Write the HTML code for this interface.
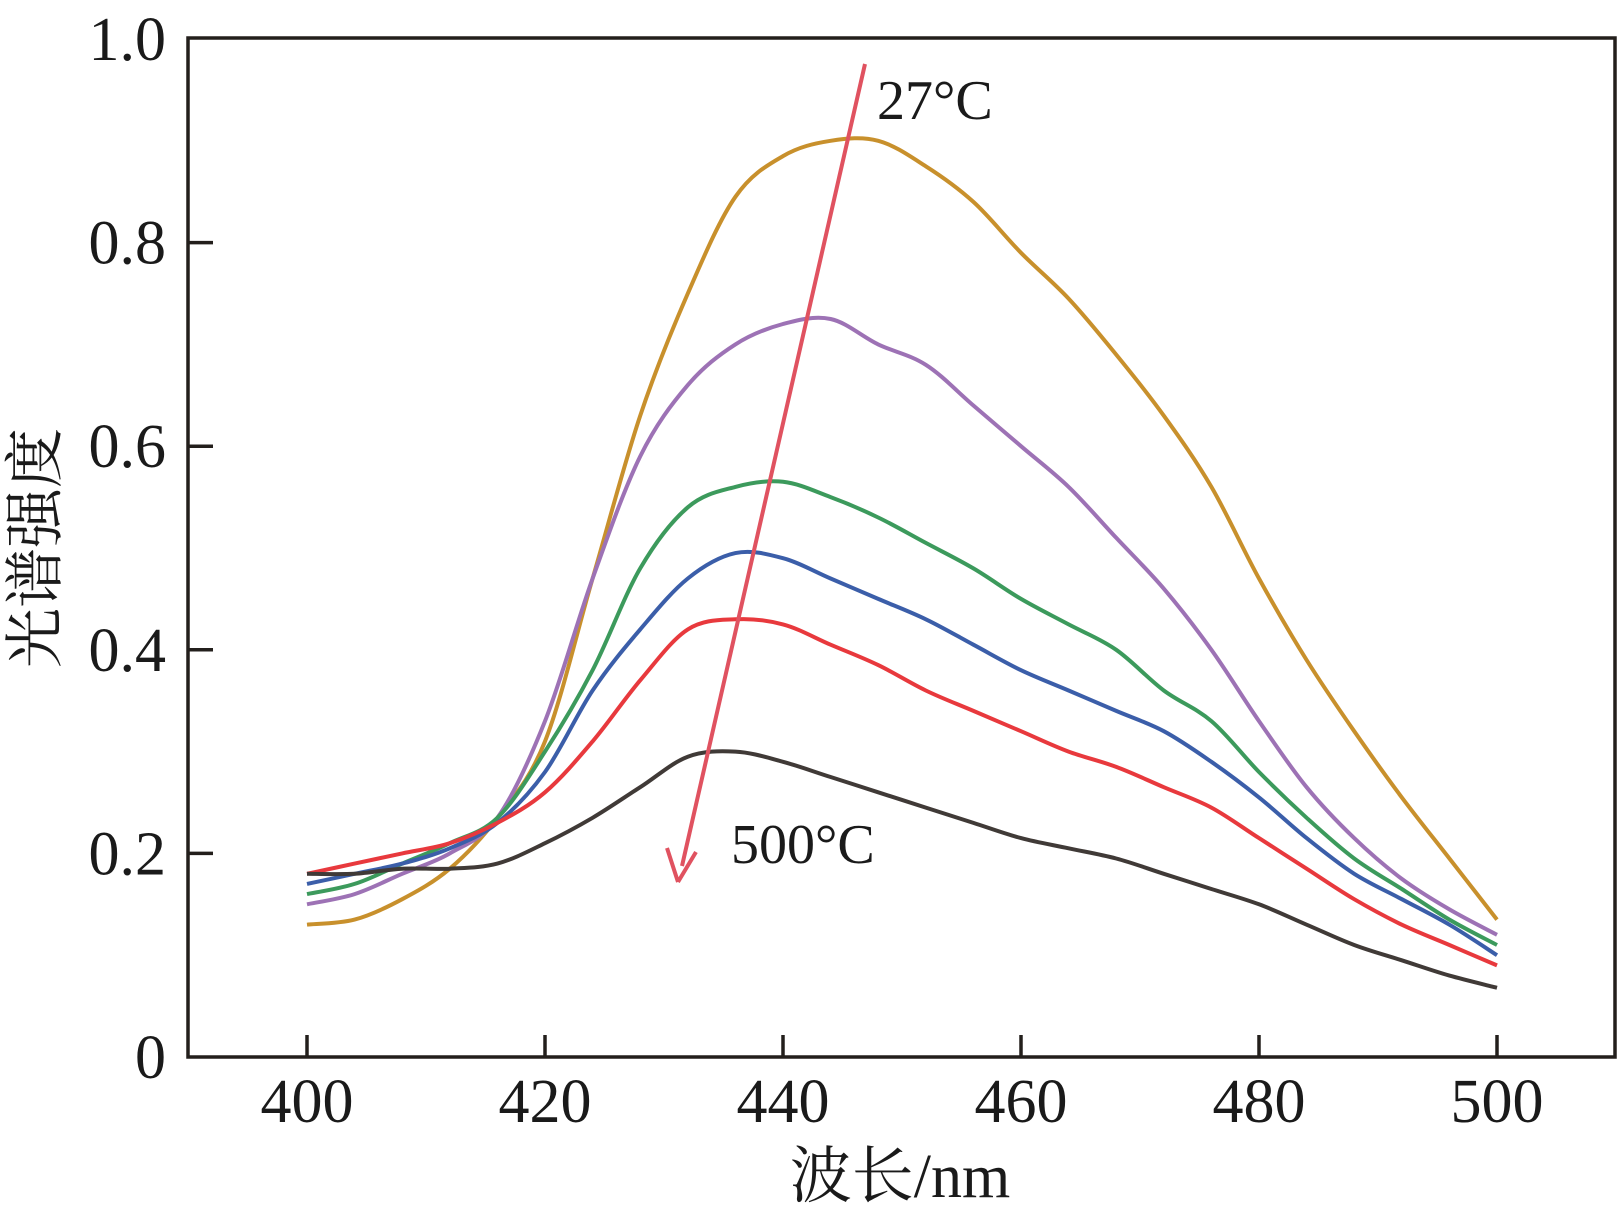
<!DOCTYPE html>
<html><head><meta charset="utf-8"><style>
html,body{margin:0;padding:0;background:#fff;}
svg{display:block;}
.t{font-family:"Liberation Serif","Noto Serif CJK SC",serif;fill:#1a1a1a;}
</style></head><body>
<svg id="chart" width="1622" height="1219" viewBox="0 0 1622 1219" xmlns="http://www.w3.org/2000/svg"></svg>
<script>
const wavelengths = [400,404,408,412,416,420,424,428,432,436,440,444,448,452,456,460,464,468,472,476,480,484,488,492,496,500];
const seriesGold   = [0.13,0.135,0.155,0.185,0.235,0.31,0.47,0.63,0.75,0.845,0.885,0.90,0.90,0.875,0.84,0.79,0.745,0.69,0.63,0.56,0.47,0.39,0.32,0.255,0.195,0.135];
const seriesPurple = [0.15,0.16,0.18,0.20,0.235,0.33,0.47,0.59,0.66,0.70,0.72,0.725,0.70,0.68,0.64,0.60,0.56,0.51,0.46,0.40,0.33,0.265,0.215,0.175,0.145,0.12];
const seriesGreen  = [0.16,0.17,0.19,0.21,0.235,0.30,0.38,0.48,0.54,0.56,0.565,0.55,0.53,0.505,0.48,0.45,0.425,0.40,0.36,0.33,0.28,0.235,0.195,0.165,0.135,0.11];
const seriesBlue   = [0.17,0.18,0.19,0.205,0.23,0.28,0.36,0.42,0.47,0.495,0.49,0.47,0.45,0.43,0.405,0.38,0.36,0.34,0.32,0.29,0.255,0.215,0.18,0.155,0.13,0.10];
const seriesRed    = [0.18,0.19,0.20,0.21,0.23,0.26,0.31,0.37,0.42,0.43,0.425,0.405,0.385,0.36,0.34,0.32,0.30,0.285,0.265,0.245,0.215,0.185,0.155,0.13,0.11,0.09];
const seriesDark   = [0.18,0.18,0.185,0.185,0.19,0.21,0.235,0.265,0.295,0.30,0.29,0.275,0.26,0.245,0.23,0.215,0.205,0.195,0.18,0.165,0.15,0.13,0.11,0.095,0.08,0.068];
const xTicks = [400,420,440,460,480,500];
const yTicks = [0,0.2,0.4,0.6,0.8,1.0];
const yTickLabels = ["0","0.2","0.4","0.6","0.8","1.0"];

const NS="http://www.w3.org/2000/svg";
const svg=document.getElementById('chart');
const X0=188,X1=1615,Y0=1057,Y1=38;
const xs=w=>307+(w-400)*(1190/100);
const ys=v=>1057-v*(1057-39);
function mk(tag,attrs){const e=document.createElementNS(NS,tag);for(const k in attrs)e.setAttribute(k,attrs[k]);svg.appendChild(e);return e;}

const frame=mk('rect',{x:X0,y:Y1,width:X1-X0,height:Y0-Y1,fill:'none',stroke:'#231f1c','stroke-width':3.5});



xTicks.forEach(t=>{
  const l=mk('line',{x1:xs(t),x2:xs(t),y1:Y0,y2:Y0-22,stroke:'#231f1c','stroke-width':3.5});
  
  
  const tx=mk('text',{x:xs(t),y:1122,'text-anchor':'middle','font-size':62,class:'t'});
  tx.textContent=t;
  
  
});
yTicks.forEach((t,i)=>{
  if(t>0&&t<1){
    const l=mk('line',{x1:X0,x2:X0+25,y1:ys(t),y2:ys(t),stroke:'#231f1c','stroke-width':3.5});
    
    
  }
  const tx=mk('text',{x:166,y:ys(t)+21,'text-anchor':'end','font-size':62,class:'t'});
  tx.textContent=yTickLabels[i];
  
  
});

function smooth(pts){
  let d='M'+pts[0][0].toFixed(1)+' '+pts[0][1].toFixed(1);
  for(let i=0;i<pts.length-1;i++){
    const p0=pts[Math.max(0,i-1)],p1=pts[i],p2=pts[i+1],p3=pts[Math.min(pts.length-1,i+2)];
    const c1=[p1[0]+(p2[0]-p0[0])/6,p1[1]+(p2[1]-p0[1])/6];
    const c2=[p2[0]-(p3[0]-p1[0])/6,p2[1]-(p3[1]-p1[1])/6];
    d+=' C'+c1[0].toFixed(1)+' '+c1[1].toFixed(1)+' '+c2[0].toFixed(1)+' '+c2[1].toFixed(1)+' '+p2[0].toFixed(1)+' '+p2[1].toFixed(1);
  }
  return d;
}
const series=[[seriesGold,'#c8902c'],[seriesPurple,'#9d72b5'],[seriesGreen,'#3c9a5c'],[seriesBlue,'#3b5ea9'],[seriesRed,'#e8393d'],[seriesDark,'#403a37']];
series.forEach(s=>{
  const pts=s[0].map((v,i)=>[xs(wavelengths[i]),ys(v)]);
  const p=mk('path',{d:smooth(pts),fill:'none',stroke:s[1],'stroke-width':4,'stroke-linejoin':'round'});
  
  
});

const ar=mk('line',{x1:865,y1:64,x2:682,y2:866,stroke:'#e05260','stroke-width':4});


const ah=mk('path',{d:'M678 882 L667 848 M678 882 L696 852',fill:'none',stroke:'#e05260','stroke-width':4});



const l1=mk('text',{x:877,y:119,'font-size':56,class:'t'});l1.textContent='27°C';


const l2=mk('text',{x:731,y:863,'font-size':56,class:'t'});l2.textContent='500°C';



const xt=mk('text',{x:900,y:1197,'text-anchor':'middle','font-size':62,class:'t'});xt.textContent='波长/nm';


const yt=mk('text',{x:0,y:0,'text-anchor':'middle','font-size':60,class:'t',transform:'translate(56,548) rotate(-90)'});yt.textContent='光谱强度';


</script>
</body></html>
